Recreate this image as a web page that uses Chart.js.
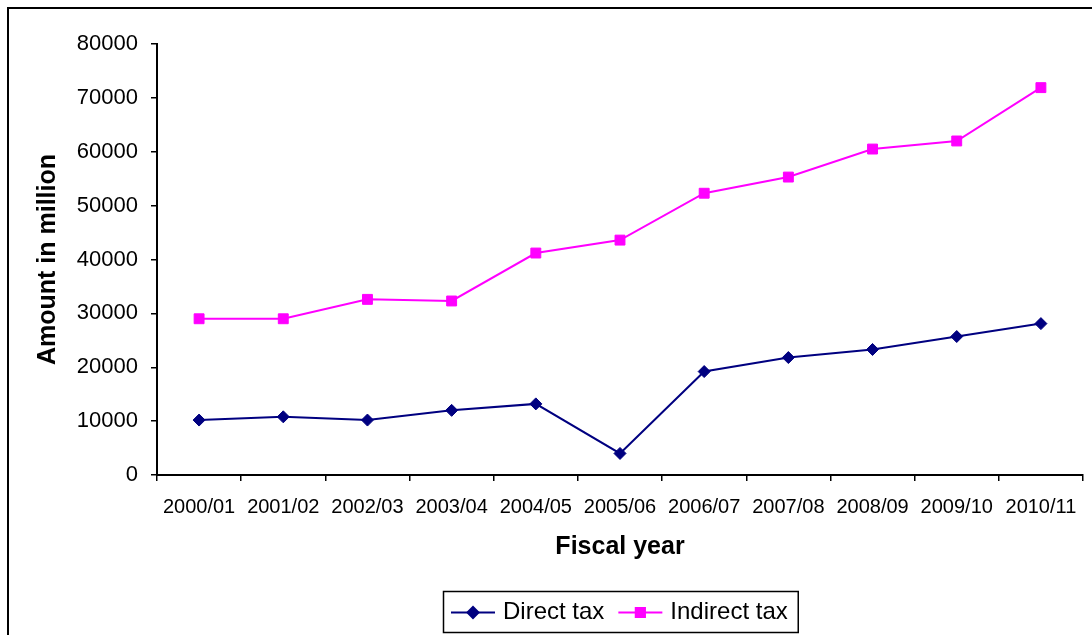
<!DOCTYPE html>
<html>
<head>
<meta charset="utf-8">
<script src="https://cdn.jsdelivr.net/npm/chart.js@4/dist/chart.umd.min.js"></script>
<style>
  html, body { margin: 0; padding: 0; background: #fff; }
  #wrap { width: 1092px; height: 635px; position: relative; }
</style>
</head>
<body>
<div id="wrap"><canvas id="c" width="1092" height="635"></canvas></div>
<script>
// Tax revenue by fiscal year (amounts in million)
const fiscalYears = ['2000/01', '2001/02', '2002/03', '2003/04', '2004/05', '2005/06',
                     '2006/07', '2007/08', '2008/09', '2009/10', '2010/11'];
const directTax   = [10200, 10800, 10200, 12000, 13200, 4000, 19200, 21800, 23300, 25700, 28100];
const indirectTax = [29000, 29000, 32600, 32300, 41200, 43600, 52300, 55300, 60500, 62000, 71900];
const yTickValues = [0, 10000, 20000, 30000, 40000, 50000, 60000, 70000, 80000];

const FONT = "'Liberation Sans', Arial, Helvetica, sans-serif";

// Outer frame (left and top edges) of the figure
const framePlugin = {
  id: 'frame',
  beforeDraw(chart) {
    const ctx = chart.ctx;
    ctx.save();
    ctx.fillStyle = '#fff';
    ctx.fillRect(0, 0, chart.width, chart.height);
    ctx.strokeStyle = '#000';
    ctx.lineWidth = 2;
    ctx.beginPath();
    ctx.moveTo(8, chart.height + 2);
    ctx.lineTo(8, 8);
    ctx.lineTo(chart.width + 2, 8);
    ctx.stroke();
    ctx.restore();
  }
};

// Boxed legend with line + marker samples, centred under the plot
const boxLegendPlugin = {
  id: 'boxLegend',
  afterDraw(chart) {
    const ctx = chart.ctx;
    const ds = chart.data.datasets;
    ctx.save();
    ctx.font = '24px ' + FONT;
    const lineLen = 44, padL = 8, gapText = 8, gapItem = 14, padR = 10;
    const widths = ds.map(d => ctx.measureText(d.label).width);
    let total = padL + padR;
    ds.forEach((d, i) => { total += lineLen + gapText + widths[i] + (i < ds.length - 1 ? gapItem : 0); });
    const cx = (chart.chartArea.left + chart.chartArea.right) / 2;
    const boxTop = 591, boxH = 41;
    const boxLeft = Math.round(cx - total / 2);
    const cy = boxTop + boxH / 2 + 1;
    ctx.strokeStyle = '#000';
    ctx.lineWidth = 1.5;
    ctx.strokeRect(boxLeft + 0.5, boxTop + 0.5, total, boxH);
    let x = boxLeft + padL;
    ds.forEach((d, i) => {
      ctx.strokeStyle = d.borderColor;
      ctx.lineWidth = 2;
      ctx.beginPath();
      ctx.moveTo(x, cy);
      ctx.lineTo(x + lineLen, cy);
      ctx.stroke();
      Chart.helpers.drawPoint(ctx, {
        pointStyle: d.pointStyle,
        radius: d.pointRadius - 0.5,
        borderWidth: 1,
        rotation: 0
      }, x + lineLen / 2, cy);
      ctx.fillStyle = d.pointBackgroundColor;
      ctx.fill();
      x += lineLen + gapText;
      ctx.fillStyle = '#000';
      ctx.textBaseline = 'middle';
      ctx.textAlign = 'left';
      ctx.fillText(d.label, x, cy);
      x += widths[i] + gapItem;
    });
    ctx.restore();
  }
};

new Chart(document.getElementById('c'), {
  type: 'line',
  data: {
    labels: fiscalYears,
    datasets: [
      {
        label: 'Direct tax',
        data: directTax,
        borderColor: '#000080',
        backgroundColor: '#000080',
        pointBackgroundColor: '#000080',
        pointBorderColor: '#000080',
        pointStyle: 'rectRot',
        pointRadius: 6,
        pointBorderWidth: 1,
        borderWidth: 2,
        tension: 0
      },
      {
        label: 'Indirect tax',
        data: indirectTax,
        borderColor: '#FF00FF',
        backgroundColor: '#FF00FF',
        pointBackgroundColor: '#FF00FF',
        pointBorderColor: '#FF00FF',
        pointStyle: 'rect',
        pointRadius: 7,
        pointBorderWidth: 1,
        borderWidth: 2,
        tension: 0
      }
    ]
  },
  options: {
    responsive: false,
    animation: false,
    events: [],
    layout: { padding: { left: 10, right: 9, top: 44, bottom: 65 } },
    plugins: {
      legend: { display: false },
      tooltip: { enabled: false },
      title: { display: false }
    },
    scales: {
      x: {
        type: 'category',
        offset: true,
        grid: { display: true, drawOnChartArea: false, offset: true, color: '#000', lineWidth: 1.5, tickLength: 6 },
        border: { display: true, color: '#000', width: 2 },
        ticks: { color: '#000', font: { family: FONT, size: 20 }, padding: 14, maxRotation: 0, autoSkip: false },
        title: { display: true, text: 'Fiscal year', color: '#000', font: { family: FONT, size: 25, weight: 'bold' }, padding: { top: 0, bottom: 8 } },
        afterFit(scale) { scale.height = 95; }
      },
      y: {
        min: 0,
        max: 80000,
        grid: { display: true, drawOnChartArea: false, color: '#000', lineWidth: 1.5, tickLength: 6 },
        border: { display: true, color: '#000', width: 2 },
        ticks: { color: '#000', font: { family: FONT, size: 22 }, padding: 13, callback: v => String(v) },
        afterBuildTicks(scale) { scale.ticks = yTickValues.map(v => ({ value: v })); },
        title: { display: true, text: 'Amount in million', color: '#000', font: { family: FONT, size: 25, weight: 'bold' }, padding: { top: 23, bottom: 0 } },
        afterFit(scale) { scale.width = 147; }
      }
    }
  },
  plugins: [framePlugin, boxLegendPlugin]
});
</script>
</body>
</html>
